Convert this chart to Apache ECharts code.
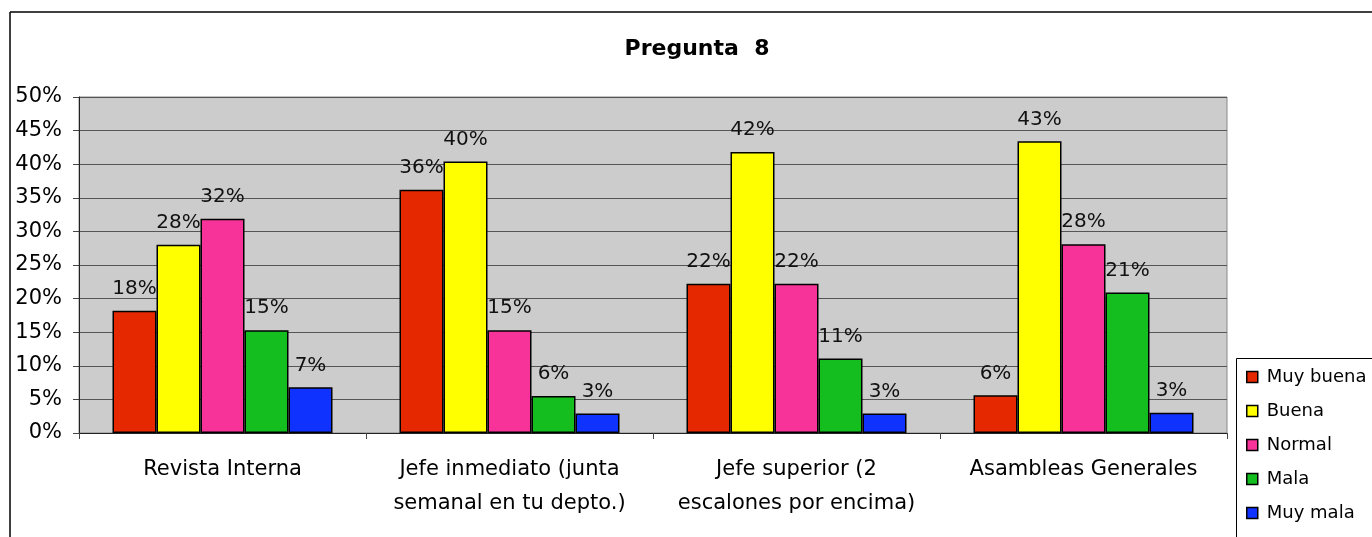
<!DOCTYPE html>
<html>
<head>
<meta charset="utf-8">
<script src="https://cdn.jsdelivr.net/npm/echarts@6/dist/echarts.min.js"></script>
<style>
  html, body { margin: 0; padding: 0; background: #fff; }
  #chart { width: 1372px; height: 537px; }
</style>
</head>
<body>
<div id="chart"></div>
<script>
  // datos (en %)
  var categorias = [
    'Revista Interna',
    'Jefe inmediato (junta\nsemanal en tu depto.)',
    'Jefe superior (2\nescalones por encima)',
    'Asambleas Generales'
  ]
  var muyBuena = [18.2, 36.2, 22.2, 5.6]
  var buena = [28.0, 40.4, 41.8, 43.4]
  var normal = [31.9, 15.3, 22.2, 28.1]
  var mala = [15.3, 5.5, 11.1, 20.9]
  var muyMala = [6.8, 2.9, 2.9, 3.0]
  var nombres = ['Muy buena', 'Buena', 'Normal', 'Mala', 'Muy mala']
  var colores = ['#e62800', '#ffff00', '#f73399', '#14be1e', '#1032ff']
  var ticksY = { min: 0, max: 50, interval: 5 }

  var fuente = 'DejaVu Sans'
  var chart = echarts.init(document.getElementById('chart'))

  function serie(nombre, datos, color) {
    return {
      name: nombre,
      type: 'bar',
      data: datos,
      barWidth: 44,
      barGap: '0%',
      itemStyle: { color: color, borderColor: '#000', borderWidth: 1.5 },
      label: {
        show: true,
        position: 'top',
        distance: 12,
        color: '#111',
        fontFamily: fuente,
        fontSize: 20,
        formatter: function (p) { return Math.round(p.value) + '%' }
      }
    }
  }

  var option = {
    backgroundColor: '#fff',
    animation: false,
    title: {
      text: 'Pregunta  8',
      left: 692,
      top: 33,
      textAlign: 'center',
      textStyle: { fontFamily: fuente, fontSize: 22, fontWeight: 'bold', color: '#000' }
    },
    grid: {
      left: 79,
      right: 145,
      top: 97,
      bottom: 104,
      show: true,
      backgroundColor: '#cccccc',
      borderColor: '#888',
      borderWidth: 1
    },
    legend: {
      orient: 'vertical',
      left: 1246,
      top: 367,
      padding: 0,
      itemWidth: 11,
      itemHeight: 11,
      itemGap: 14,
      icon: 'rect',
      data: nombres,
      itemStyle: { borderColor: '#000', borderWidth: 1.5 },
      textStyle: { fontFamily: fuente, fontSize: 18, color: '#000', lineHeight: 20, padding: [0, 0, 0, 4] }
    },
    xAxis: {
      type: 'category',
      data: categorias,
      axisLine: { lineStyle: { color: '#222', width: 1 } },
      axisTick: { show: true, length: 6, lineStyle: { color: '#444' } },
      axisLabel: {
        margin: 20,
        fontFamily: fuente,
        fontSize: 21,
        lineHeight: 34,
        color: '#000',
        interval: 0
      }
    },
    yAxis: {
      type: 'value',
      min: ticksY.min,
      max: ticksY.max,
      interval: ticksY.interval,
      axisLine: { show: true, lineStyle: { color: '#222', width: 1 } },
      axisTick: { show: true, length: 6, lineStyle: { color: '#444' } },
      axisLabel: {
        margin: 17,
        fontFamily: fuente,
        fontSize: 21,
        color: '#000',
        formatter: '{value}%'
      },
      splitLine: { show: true, lineStyle: { color: '#555', width: 1 } }
    },
    graphic: [
      { type: 'line', shape: { x1: 10, y1: 12, x2: 1372, y2: 12 }, style: { stroke: '#000', lineWidth: 1.5 }, silent: true },
      { type: 'line', shape: { x1: 10, y1: 12, x2: 10, y2: 537 }, style: { stroke: '#000', lineWidth: 1.5 }, silent: true },
      { type: 'rect', shape: { x: 1236.5, y: 358.5, width: 200, height: 200 }, style: { fill: 'none', stroke: '#000', lineWidth: 1 }, silent: true, z: -1 }
    ],
    series: [
      serie(nombres[0], muyBuena, colores[0]),
      serie(nombres[1], buena, colores[1]),
      serie(nombres[2], normal, colores[2]),
      serie(nombres[3], mala, colores[3]),
      serie(nombres[4], muyMala, colores[4])
    ]
  }
  chart.setOption(option)
</script>
</body>
</html>
